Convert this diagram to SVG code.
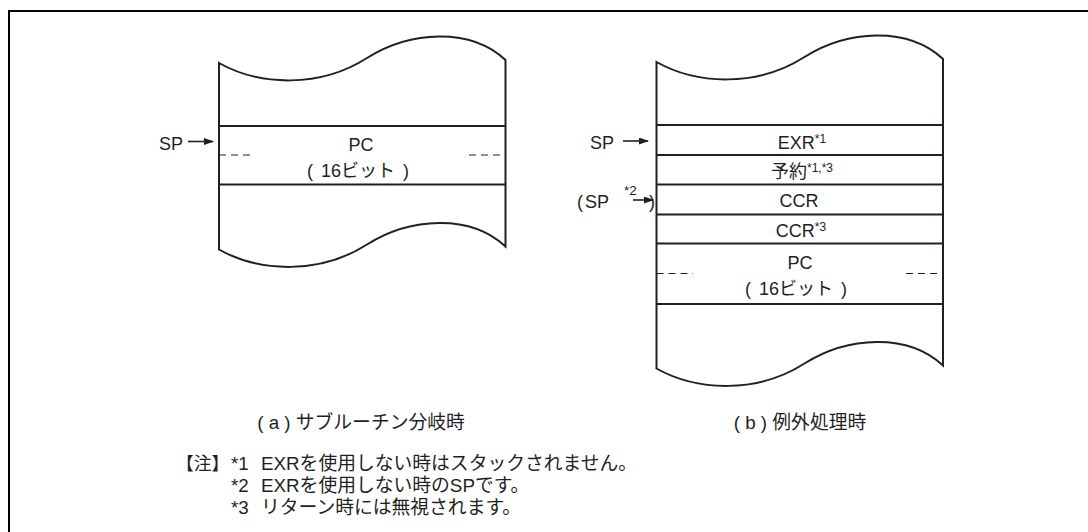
<svg xmlns="http://www.w3.org/2000/svg" width="1088" height="532" viewBox="0 0 1088 532">
<style>
  text { font-family: "Liberation Sans", "Noto Sans CJK JP", sans-serif; font-size: 18px; fill: #231f20; }
  .c { text-anchor: middle; }
  .sup { font-size: 12px; }
  .note { font-size: 18.8px; }
  .box { fill: none; stroke: #231f20; stroke-width: 2; stroke-linejoin: miter; }
  .row { stroke: #231f20; stroke-width: 2; }
  .dash { stroke: #231f20; stroke-width: 1.2; stroke-dasharray: 7 5; }
  .arr { stroke: #231f20; stroke-width: 1.6; marker-end: url(#ah); }
</style>
<defs>
  <marker id="ah" markerUnits="userSpaceOnUse" markerWidth="10" markerHeight="7" refX="9" refY="3.5" orient="auto">
    <path d="M0,0 L10,3.5 L0,7 Z" fill="#231f20"/>
  </marker>
</defs>
<rect id="frame" x="9" y="11" width="1100" height="540" fill="#fff" stroke="#000" stroke-width="2"/>

<g id="stack-a">
  <path class="box" d="M219,63 C260,86 320,88 367,58 C410,31 470,27 505.5,60 L505.5,246.5 C470,213.5 410,217.5 367,244.5 C320,274.5 260,272.5 219,249.5 Z"/>
  <line class="row" x1="219" y1="126" x2="505.5" y2="126"/>
  <line class="row" x1="219" y1="184.5" x2="505.5" y2="184.5"/>
  <line class="dash" x1="219" y1="155" x2="255" y2="155"/>
  <line class="dash" x1="469" y1="155" x2="505.5" y2="155"/>
  <text class="c" x="361" y="151">PC</text>
  <text class="c" x="358" y="177">(<tspan dx="3"> 16ビット</tspan><tspan dx="3"> )</tspan></text>
</g>

<g id="stack-b">
  <path class="box" d="M656.5,62 C697.5,85 757.5,87 804.5,57 C847.5,30 907.5,26 943,59 L943,365.5 C907.5,332.5 847.5,336.5 804.5,363.5 C757.5,393.5 697.5,391.5 656.5,368.5 Z"/>
  <line class="row" x1="656.5" y1="125" x2="943" y2="125"/>
  <line class="row" x1="656.5" y1="155" x2="943" y2="155"/>
  <line class="row" x1="656.5" y1="184.5" x2="943" y2="184.5"/>
  <line class="row" x1="656.5" y1="214.5" x2="943" y2="214.5"/>
  <line class="row" x1="656.5" y1="243.5" x2="943" y2="243.5"/>
  <line class="row" x1="656.5" y1="304" x2="943" y2="304"/>
  <line class="dash" x1="656.5" y1="273.5" x2="693" y2="273.5"/>
  <line class="dash" x1="906" y1="273.5" x2="943" y2="273.5"/>
  <text class="c" x="802" y="149">EXR<tspan class="sup" dy="-6">*1</tspan></text>
  <text class="c" x="802" y="178">予約<tspan class="sup" dy="-6">*1,*3</tspan></text>
  <text class="c" x="799" y="207">CCR</text>
  <text class="c" x="801" y="237">CCR<tspan class="sup" dy="-6">*3</tspan></text>
  <text class="c" x="800" y="269">PC</text>
  <text class="c" x="796" y="295">(<tspan dx="3"> 16ビット</tspan><tspan dx="3"> )</tspan></text>
</g>

<g id="sp-labels">
  <text x="159" y="149.5">SP</text>
  <text x="590" y="149">SP</text>
  <text x="577" y="207.5">(<tspan dx="2">SP</tspan></text>
  <text x="624" y="195" style="font-size:13.5px">*2</text>
  <text x="649" y="207.5">)</text>
</g>

<g id="connectors">
  <line class="arr" x1="188" y1="141.5" x2="213" y2="141.5"/>
  <line class="arr" x1="623" y1="141" x2="648" y2="141"/>
  <line class="arr" x1="633" y1="200" x2="653" y2="200"/>
</g>

<g id="captions">
  <text class="c note" x="361" y="429">( a ) サブルーチン分岐時</text>
  <text class="c note" x="800" y="429">( b ) 例外処理時</text>
</g>

<g id="notes">
  <text x="176" y="470" style="font-size:17.8px">【注】</text>
  <text class="note" x="231" y="470">*1</text>
  <text class="note" x="261" y="470">EXRを使用しない時はスタックされません。</text>
  <text class="note" x="231" y="492">*2</text>
  <text class="note" x="261" y="492">EXRを使用しない時のSPです。</text>
  <text class="note" x="231" y="514">*3</text>
  <text class="note" x="261" y="514">リターン時には無視されます。</text>
</g>
</svg>
